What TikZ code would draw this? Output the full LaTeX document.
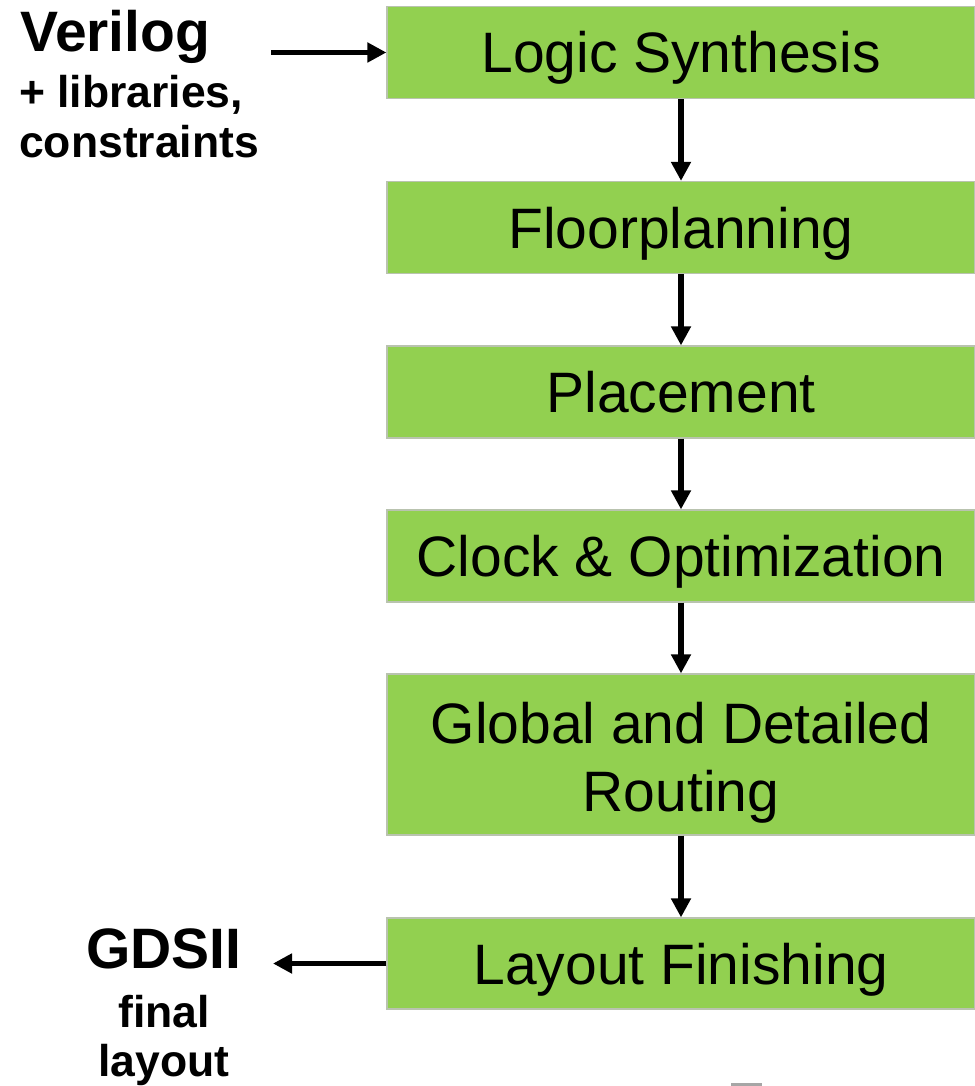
\documentclass[tikz,border=0pt]{standalone}
\usepackage{fontspec}
\setmainfont{Liberation Sans}
\usetikzlibrary{arrows.meta}
\definecolor{stepgreen}{RGB}{146,208,80}
\definecolor{stepedge}{RGB}{185,195,175}
\tikzset{
  stepbox/.style={fill=stepgreen, draw=stepedge, line width=1.2pt,
    minimum width=588pt, inner sep=0pt, text height=41pt, text depth=0pt,
    font=\fontsize{57}{68}\selectfont},
  steptext/.style={inner sep=0pt, anchor=base, font=\fontsize{57}{68}\selectfont},
  flow/.style={line width=5.5pt, -{Triangle[width=19pt,length=19pt]}},
  bigbold/.style={inner sep=0pt, font=\fontsize{57}{60}\selectfont\bfseries},
  smallbold/.style={inner sep=0pt, font=\fontsize{44.5}{50}\selectfont\bfseries}
}
\begin{document}
\begin{tikzpicture}[x=1pt,y=-1pt]
  \useasboundingbox (0,0) rectangle (974,1086);
  % process steps
  \node[stepbox, minimum height=92pt] (s1) at (681,52.5) {Logic Synthesis};
  \node[stepbox, minimum height=92pt] (s2) at (681,227.5) {Floorplanning};
  \node[stepbox, minimum height=92pt] (s3) at (681,392) {Placement};
  \node[stepbox, minimum height=92pt] (s4) at (681,556) {Clock \& Optimization};
  \node[stepbox, minimum height=161pt] (s5) at (681,754.5) {};
  \node[steptext] (s5a) at (681,743) {Global and Detailed};
  \node[steptext] (s5b) at (681,811) {Routing};
  \node[stepbox, minimum height=91pt] (s6) at (681,963.5) {Layout Finishing};
  % flow between steps
  \draw[flow] (s1) -- (s2);
  \draw[flow] (s2) -- (s3);
  \draw[flow] (s3) -- (s4);
  \draw[flow] (s4) -- (s5);
  \draw[flow] (s5) -- (s6);
  % inputs
  \node[bigbold, anchor=base west] (verilog) at (20,52) {Verilog};
  \node[smallbold, anchor=base west] (libs) at (19,108) {+ libraries,};
  \node[smallbold, anchor=base west] (cons) at (19,158) {constraints};
  \coordinate (inA) at (271,52.5);
  \draw[flow] (inA) -- (s1.west);
  % outputs
  \node[bigbold, anchor=base] (gds) at (164,968) {GDSII};
  \node[smallbold, anchor=base] (final) at (164,1027) {final};
  \node[smallbold, anchor=base] (layout) at (164,1076) {layout};
  \coordinate (outA) at (273,963.5);
  \draw[flow] (s6.west) -- (outA);
  % small mark at the lower edge
  \fill[gray!70] (731,1083) rectangle (762,1088);
\end{tikzpicture}
\end{document}
